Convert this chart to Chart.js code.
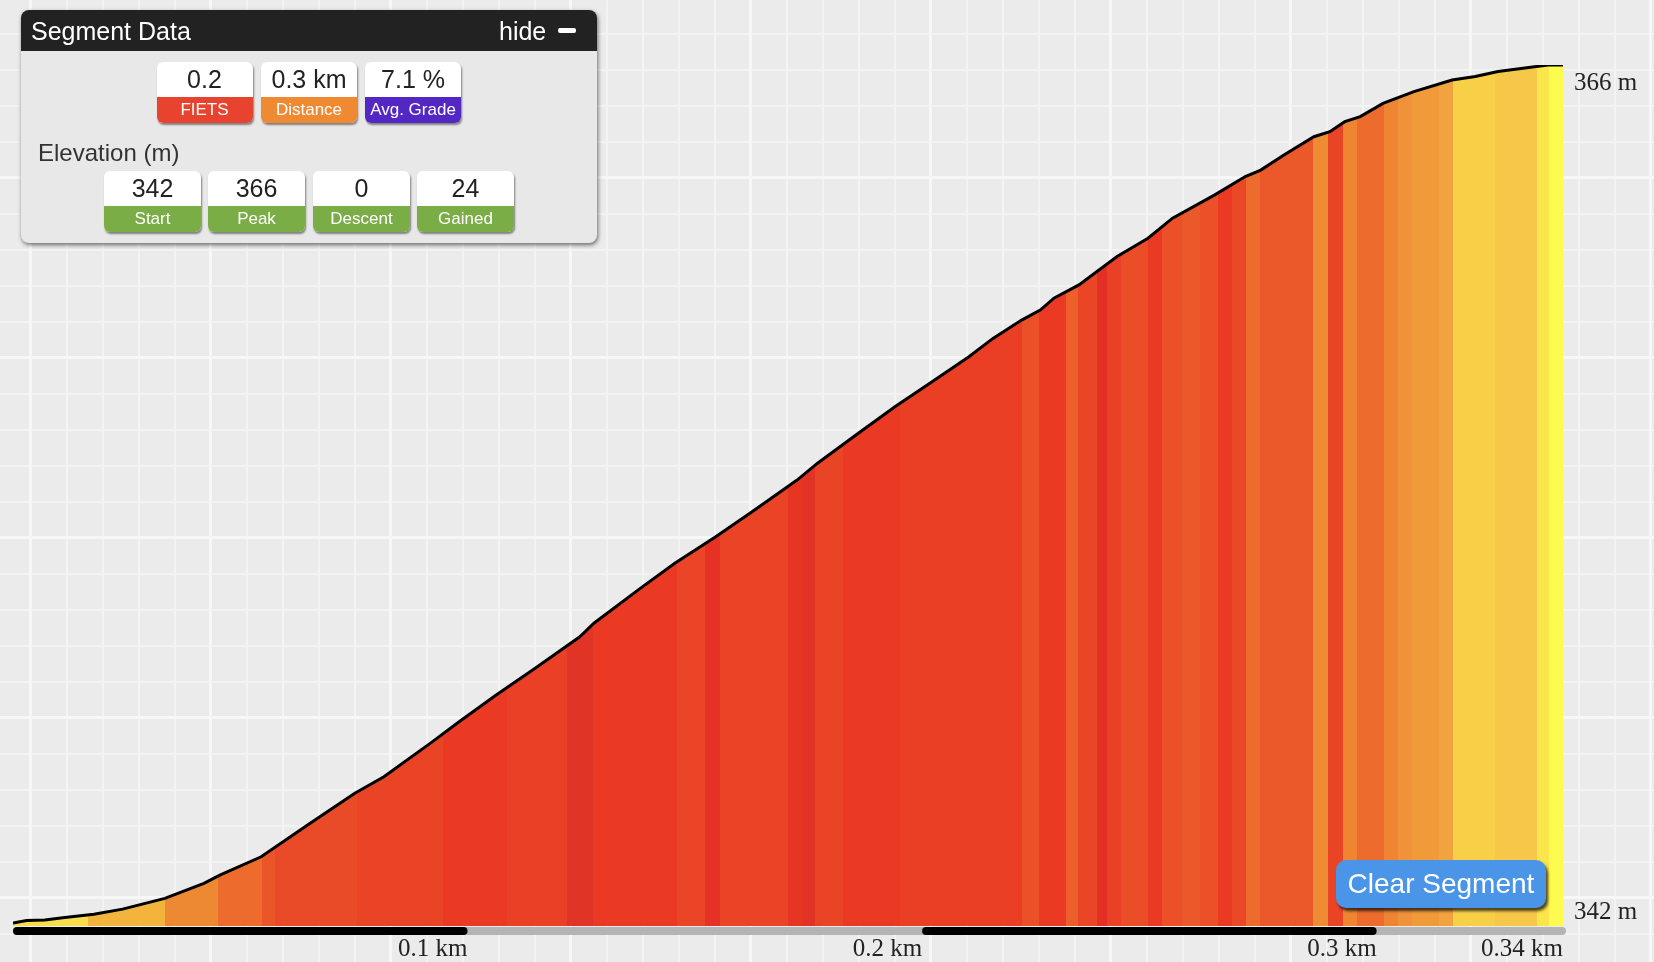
<!DOCTYPE html>
<html>
<head>
<meta charset="utf-8">
<title>Segment profile</title>
<script src="https://cdn.jsdelivr.net/npm/chart.js@4.4.1/dist/chart.umd.min.js"></script>
<style>
  html, body { margin: 0; padding: 0; }
  body {
    width: 1654px; height: 962px; overflow: hidden; position: relative;
    background-color: #ebebeb;
    background-image:
      linear-gradient(90deg, #f7f7f7 3px, transparent 3px),
      linear-gradient(180deg, #f7f7f7 3px, transparent 3px),
      linear-gradient(90deg, #f3f3f3 2px, transparent 2px),
      linear-gradient(180deg, #f3f3f3 2px, transparent 2px);
    background-size: 180px 180px, 180px 180px, 36px 36px, 36px 36px;
    background-position: 29px 176px, 29px 176px, 30px 177px, 30px 177px;
    font-family: "Liberation Sans", Arial, Helvetica, sans-serif;
  }
  #chartBox { position: absolute; left: 0; top: 0; width: 1654px; height: 962px; }

  #panel {
    position: absolute; left: 21px; top: 10px; width: 576px; height: 233px;
    background: #e8e8e8; border-radius: 8px;
    box-shadow: 1px 2px 4px rgba(0,0,0,0.55);
  }
  #panel .head {
    position: absolute; left: 0; top: 0; width: 576px; height: 41px;
    background: #222; border-radius: 8px 8px 0 0; color: #fff; font-size: 25px;
  }
  #panel .head .title { position: absolute; left: 10px; top: 1px; line-height: 41px; }
  #panel .head .hide { position: absolute; left: 478px; top: 1px; line-height: 41px; }
  #panel .head .minus {
    position: absolute; left: 537px; top: 18px; width: 18px; height: 5px;
    background: #fff; border-radius: 2px;
  }
  #panel .elev {
    position: absolute; left: 17px; top: 128px; line-height: 30px;
    font-size: 24px; color: #333;
  }
  .badge {
    position: absolute; width: 96px; height: 61px; border-radius: 6px; overflow: hidden;
    background: #fff; box-shadow: 1px 2px 2px rgba(0,0,0,0.45);
  }
  .badge .val { height: 35px; line-height: 35px; text-align: center; font-size: 25px; color: #222; }
  .badge .lab { height: 26px; line-height: 26px; text-align: center; font-size: 17px; color: #fff; }

  #clearBtn {
    position: absolute; left: 1336px; top: 860px; width: 210px; height: 48px;
    background: #4a95e8; border-radius: 10px; color: #fff;
    font-size: 28px; line-height: 48px; text-align: center;
    box-shadow: 2px 3px 3px rgba(0,0,0,0.7);
  }
</style>
</head>
<body>
<div id="chartBox"><canvas id="profile"></canvas></div>

<div id="panel">
  <div class="head">
    <span class="title">Segment Data</span>
    <span class="hide">hide</span>
    <span class="minus"></span>
  </div>
  <div class="elev">Elevation (m)</div>
</div>

<div id="clearBtn">Clear Segment</div>

<script>
// elevation profile (distance in km, elevation in m)
const distanceKm = [0, 0.0030, 0.0070, 0.0114, 0.0178, 0.0241, 0.0334, 0.0420, 0.0455, 0.0546,
  0.0653, 0.0752, 0.0816, 0.0923, 0.0977, 0.1063, 0.1148, 0.1247, 0.1278, 0.1380,
  0.1456, 0.1546, 0.1626, 0.1725, 0.1770, 0.1859, 0.1941, 0.2022, 0.2103, 0.2156,
  0.2219, 0.2260, 0.2290, 0.2345, 0.2429, 0.2497, 0.2551, 0.2644, 0.2711, 0.2745,
  0.2796, 0.2862, 0.2897, 0.2930, 0.2964, 0.3014, 0.3082, 0.3166, 0.3217, 0.3267,
  0.3377, 0.3410];
const elevationM = [342.08, 342.15, 342.17, 342.24, 342.33, 342.47, 342.77, 343.19, 343.42, 343.93,
  344.86, 345.70, 346.16, 347.14, 347.65, 348.44, 349.18, 350.06, 350.44, 351.41,
  352.11, 352.85, 353.55, 354.43, 354.90, 355.73, 356.48, 357.17, 357.87, 358.38,
  358.89, 359.17, 359.50, 359.87, 360.66, 361.17, 361.73, 362.38, 362.89, 363.07,
  363.49, 364.00, 364.14, 364.42, 364.56, 364.93, 365.26, 365.58, 365.68, 365.82,
  366.00, 366.00];

// grade bands under the profile (end of each band in km, grade in %)
const bandEndKm = [0.0165, 0.0334, 0.0451, 0.0548, 0.0576, 0.0757, 0.0946, 0.1087, 0.1219, 0.1276,
  0.1461, 0.1523, 0.1556, 0.1705, 0.1738, 0.1765, 0.1826, 0.1952, 0.2220, 0.2257,
  0.2317, 0.2343, 0.2385, 0.2407, 0.2438, 0.2497, 0.2528, 0.2572, 0.2612, 0.2651,
  0.2682, 0.2713, 0.2744, 0.2860, 0.2893, 0.2926, 0.2957, 0.3017, 0.3047, 0.3078,
  0.3138, 0.3169, 0.3261, 0.3353, 0.3379, 0.3410];
const bandGrade = [1.6, 3.5, 4.75, 5.5, 6.8, 7.8, 8.8, 10, 9.3, 12.5,
  10, 8.7, 11, 9.0, 10.6, 12.2, 8.8, 10, 9.6, 7.2,
  10, 6.2, 8.7, 11.3, 9.3, 7.5, 10, 7.2, 6.7, 7.2,
  10, 8.0, 5.5, 6.7, 4.65, 8.8, 4.9, 5.5, 4.9, 4.45,
  4.2, 4.0, 2.05, 2.35, 1.3, 0];

const xMaxKm = 0.341;
const xTickKm = [0.1, 0.2, 0.3, 0.341];
const xTickLabels = ['0.1 km', '0.2 km', '0.3 km', '0.34 km'];
const yTickM = [342, 366];
const yTickLabels = ['342 m', '366 m'];

// summary panel
const topBadgeValues = ['0.2', '0.3 km', '7.1 %'];
const topBadgeLabels = ['FIETS', 'Distance', 'Avg. Grade'];
const elevBadgeValues = ['342', '366', '0', '24'];
const elevBadgeLabels = ['Start', 'Peak', 'Descent', 'Gained'];

// grade -> colour
const gradeStops = [
  [0, [253, 251, 78]], [1.3, [250, 229, 75]], [2.05, [248, 208, 72]], [2.35, [246, 199, 72]],
  [3.5, [242, 180, 61]], [4.0, [240, 163, 62]], [4.2, [240, 154, 58]], [4.45, [240, 146, 58]],
  [4.65, [238, 140, 52]], [4.9, [239, 133, 50]], [5.5, [236, 107, 45]], [6.2, [236, 95, 43]],
  [6.7, [235, 88, 41]], [7.2, [235, 80, 40]], [7.8, [233, 74, 39]], [8.8, [234, 68, 38]],
  [9.3, [234, 65, 38]], [10, [234, 58, 36]], [11.3, [228, 47, 37]], [12.5, [224, 52, 38]]
];

function gradeColor(g) {
  if (g <= gradeStops[0][0]) return 'rgb(' + gradeStops[0][1].join(',') + ')';
  for (let i = 1; i < gradeStops.length; i++) {
    const [g1, c1] = gradeStops[i];
    if (g <= g1) {
      const [g0, c0] = gradeStops[i - 1];
      const t = (g - g0) / (g1 - g0);
      const c = c0.map((v, k) => Math.round(v + (c1[k] - v) * t));
      return 'rgb(' + c.join(',') + ')';
    }
  }
  return 'rgb(' + gradeStops[gradeStops.length - 1][1].join(',') + ')';
}

function bandGradient(chart) {
  const {chartArea, scales} = chart;
  if (!chartArea) return 'rgba(0,0,0,0)';
  const px0 = scales.x.getPixelForValue(0);
  const px1 = scales.x.getPixelForValue(xMaxKm);
  const g = chart.ctx.createLinearGradient(px0, 0, px1, 0);
  let start = 0;
  bandEndKm.forEach((end, i) => {
    const c = gradeColor(bandGrade[i]);
    g.addColorStop(Math.min(start / xMaxKm, 1), c);
    g.addColorStop(Math.min(end / xMaxKm, 1), c);
    start = end;
  });
  return g;
}

// build the badges
function addBadges(values, labels, colors, top, lefts, width) {
  const panel = document.getElementById('panel');
  values.forEach((v, i) => {
    const b = document.createElement('div');
    b.className = 'badge';
    b.style.top = top + 'px';
    b.style.left = lefts[i] + 'px';
    b.style.width = width + 'px';
    b.innerHTML = '<div class="val">' + v + '</div><div class="lab" style="background:' +
      colors[i] + '">' + labels[i] + '</div>';
    panel.appendChild(b);
  });
}
addBadges(topBadgeValues, topBadgeLabels, ['#e8432e', '#ef8a33', '#5327c3'], 52, [135.5, 240, 344], 96);
addBadges(elevBadgeValues, elevBadgeLabels, ['#7aad46', '#7aad46', '#7aad46', '#7aad46'], 161, [83, 187, 292, 396], 97);

// scale bar under the baseline
const scaleBar = {
  id: 'scaleBar',
  afterDraw(chart) {
    const {ctx, chartArea, scales} = chart;
    const xs = scales.x;
    const y = chartArea.bottom + 1;
    const h = 8;
    const bar = (a, b, color) => {
      ctx.fillStyle = color;
      ctx.beginPath();
      if (ctx.roundRect) ctx.roundRect(a, y, b - a, h, 4);
      else ctx.rect(a, y, b - a, h);
      ctx.fill();
    };
    ctx.save();
    bar(xs.getPixelForValue(0), xs.getPixelForValue(xMaxKm) + 3, '#b4b4b4');
    bar(xs.getPixelForValue(0), xs.getPixelForValue(xTickKm[0]), '#000');
    bar(xs.getPixelForValue(xTickKm[1]), xs.getPixelForValue(xTickKm[2]), '#000');
    ctx.restore();
  }
};

new Chart(document.getElementById('profile'), {
  type: 'line',
  data: {
    datasets: [{
      data: distanceKm.map((d, i) => ({x: d, y: elevationM[i]})),
      borderColor: '#000',
      borderWidth: 3,
      pointRadius: 0,
      tension: 0,
      fill: 'start',
      backgroundColor: ctx => bandGradient(ctx.chart)
    }]
  },
  options: {
    responsive: true,
    maintainAspectRatio: false,
    animation: false,
    events: [],
    layout: { padding: { left: 13, top: 65, right: 0, bottom: 0 } },
    plugins: { legend: { display: false }, tooltip: { enabled: false } },
    scales: {
      x: {
        type: 'linear',
        min: 0,
        max: xMaxKm,
        grid: { display: false, drawTicks: false },
        border: { display: false },
        afterBuildTicks: s => { s.ticks = xTickKm.map(v => ({value: v})); },
        afterFit: s => { s.height = 36; s.paddingLeft = 0; s.paddingRight = 0; },
        ticks: {
          autoSkip: false,
          maxRotation: 0,
          align: 'end',
          padding: 8,
          color: '#222',
          font: { family: '"Liberation Serif", "Times New Roman", serif', size: 25, lineHeight: 1.2 },
          callback: (v, i) => xTickLabels[i]
        }
      },
      y: {
        position: 'right',
        min: yTickM[0],
        max: yTickM[1],
        grid: { display: false, drawTicks: false },
        border: { display: false },
        afterBuildTicks: s => { s.ticks = yTickM.map(v => ({value: v})); },
        // labels stay inside the plot height, so they need no extra room
        afterFit: s => { s.width = 91; s.paddingTop = 0; s.paddingBottom = 0; },
        ticks: {
          padding: 11,
          labelOffset: 2,
          color: '#222',
          font: { family: '"Liberation Serif", "Times New Roman", serif', size: 25, lineHeight: 1.28 },
          // the bottom label sits above its tick, the top one below it
          callback: (v, i) => i === 0 ? [yTickLabels[0], ''] : ['', yTickLabels[1]]
        }
      }
    }
  },
  plugins: [scaleBar]
});
</script>
</body>
</html>
